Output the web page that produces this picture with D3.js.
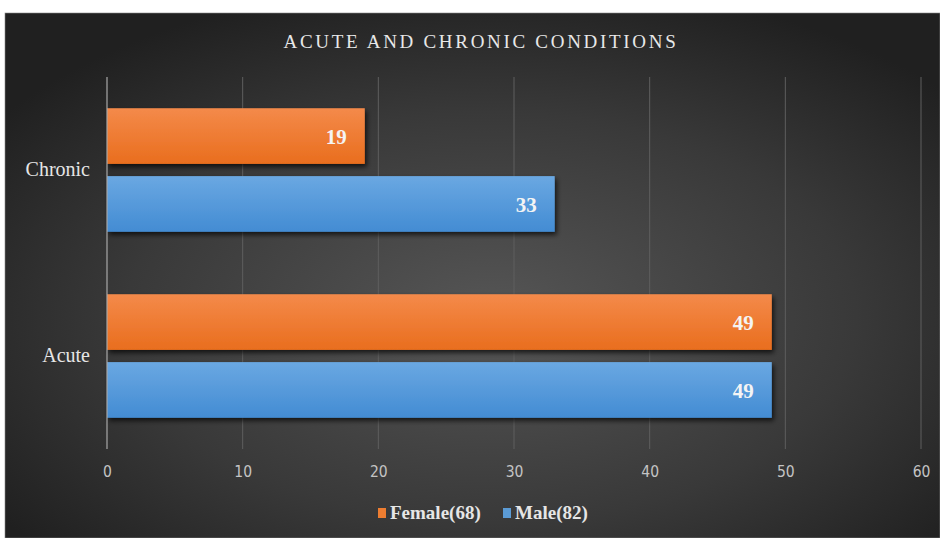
<!DOCTYPE html>
<html>
  <head>
    <meta charset="utf-8">
    <title>Acute and Chronic Conditions</title>
    <script src="https://d3js.org/d3.v7.min.js"></script>
    <style>
      body { margin: 0; background: #fff; }
    </style>
  </head>
  <body>
    <div id="chart"></div>
    <script>
      // data
      var categories = ["Chronic", "Acute"];
      var seriesNames = ["Female(68)", "Male(82)"];
      var femaleValues = [19, 49];
      var maleValues = [33, 49];
      var xTicks = [0, 10, 20, 30, 40, 50, 60];

      var W = 940, H = 538;
      var colors = { "Female(68)": "#ED7D31", "Male(82)": "#5B9BD5" };
      var serif = "'Liberation Serif', 'DejaVu Serif', serif";
      var narrow = "'Liberation Sans Narrow', 'DejaVu Sans Condensed', 'Liberation Sans', sans-serif";

      var svg = d3.select("#chart").append("svg")
        .attr("width", W)
        .attr("height", H);

      var defs = svg.append("defs");

      // dark radial background
      var bg = defs.append("radialGradient").attr("id", "bg")
        .attr("cx", "52%").attr("cy", "58%").attr("r", "65%");
      bg.append("stop").attr("offset", "0%").attr("stop-color", "#565656");
      bg.append("stop").attr("offset", "60%").attr("stop-color", "#393939");
      bg.append("stop").attr("offset", "100%").attr("stop-color", "#202020");

      // bar gradients
      function barGrad(id, top, bottom) {
        var g = defs.append("linearGradient").attr("id", id)
          .attr("x1", 0).attr("y1", 0).attr("x2", 0).attr("y2", 1);
        g.append("stop").attr("offset", "0%").attr("stop-color", top);
        g.append("stop").attr("offset", "100%").attr("stop-color", bottom);
      }
      barGrad("g0", "#F48A4A", "#E96E1E");
      barGrad("g1", "#6AA8E2", "#438CD3");

      var shadow = defs.append("filter").attr("id", "shadow")
        .attr("x", "-5%").attr("y", "-20%").attr("width", "115%").attr("height", "160%");
      shadow.append("feDropShadow")
        .attr("dx", 2).attr("dy", 3).attr("stdDeviation", 2.5)
        .attr("flood-color", "#000").attr("flood-opacity", 0.7);

      svg.append("rect")
        .attr("x", 5).attr("y", 13)
        .attr("width", W - 5).attr("height", H - 13)
        .attr("fill", "url(#bg)")
        .attr("stroke", "#888").attr("stroke-width", 0.6);

      var x = d3.scaleLinear().domain([0, 60]).range([107, 921]);
      var y0 = d3.scaleBand().domain(categories).range([77, 449]);
      var y1 = d3.scaleBand().domain(seriesNames).range([0, y0.bandwidth()])
        .paddingInner(0.18).paddingOuter(0.46);

      // gridlines
      svg.append("g").selectAll("line")
        .data(xTicks.slice(1))
        .join("line")
          .attr("x1", d => x(d)).attr("x2", d => x(d))
          .attr("y1", 77).attr("y2", 449)
          .attr("stroke", "#5e5e5e").attr("stroke-width", 1);

      // x axis labels
      var xAxis = svg.append("g")
        .attr("transform", "translate(0,449)")
        .call(d3.axisBottom(x).tickValues(xTicks).tickSize(0).tickPadding(17));
      xAxis.select(".domain").remove();
      xAxis.selectAll("text")
        .attr("fill", "#c4c4c4")
        .style("font-family", narrow)
        .style("font-size", "15.5px");

      // bars
      var rows = [];
      categories.forEach(function(c, i) {
        rows.push({ cat: c, series: seriesNames[0], value: femaleValues[i], idx: 0 });
        rows.push({ cat: c, series: seriesNames[1], value: maleValues[i], idx: 1 });
      });

      var bars = svg.append("g");
      bars.selectAll("rect")
        .data(rows)
        .join("rect")
          .attr("x", x(0))
          .attr("y", d => y0(d.cat) + y1(d.series))
          .attr("width", d => x(d.value) - x(0))
          .attr("height", y1.bandwidth())
          .attr("fill", d => "url(#g" + d.idx + ")")
          .attr("filter", "url(#shadow)");

      bars.selectAll("text")
        .data(rows)
        .join("text")
          .attr("x", d => x(d.value) - 18)
          .attr("y", d => y0(d.cat) + y1(d.series) + y1.bandwidth() / 2)
          .attr("dy", "0.36em")
          .attr("text-anchor", "end")
          .attr("fill", "#f4f4f4")
          .style("font-family", serif)
          .style("font-weight", "bold")
          .style("font-size", "21px")
          .text(d => d.value);

      // zero axis line
      svg.append("line")
        .attr("x1", x(0)).attr("x2", x(0))
        .attr("y1", 77).attr("y2", 449)
        .attr("stroke", "#a8a8a8").attr("stroke-width", 1.2);

      // category labels
      var yAxis = svg.append("g")
        .attr("transform", "translate(" + x(0) + ",0)")
        .call(d3.axisLeft(y0).tickSize(0).tickPadding(17));
      yAxis.select(".domain").remove();
      yAxis.selectAll("text")
        .attr("fill", "#e6e6e6")
        .style("font-family", serif)
        .style("font-size", "20px");

      // title
      svg.append("text")
        .attr("x", 481).attr("y", 48)
        .attr("text-anchor", "middle")
        .attr("fill", "#e8e8e8")
        .style("font-family", serif)
        .style("font-size", "19px")
        .style("letter-spacing", "2.7px")
        .text("ACUTE AND CHRONIC CONDITIONS");

      // legend
      var legendX = [378, 503];
      var legend = svg.append("g");
      seriesNames.forEach(function(s, i) {
        legend.append("rect")
          .attr("x", legendX[i]).attr("y", 508)
          .attr("width", 8).attr("height", 10)
          .attr("fill", colors[s]);
        legend.append("text")
          .attr("x", legendX[i] + 12).attr("y", 519)
          .attr("fill", "#e6e6e6")
          .style("font-family", serif)
          .style("font-weight", "bold")
          .style("font-size", "19px")
          .text(s);
      });
    </script>
  </body>
</html>
